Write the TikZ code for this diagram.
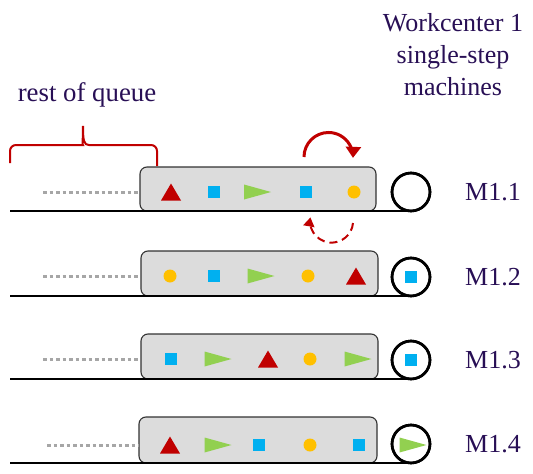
\documentclass[tikz,border=0pt]{standalone}
\usepackage{fontspec}
\setmainfont{Liberation Serif}
\usetikzlibrary{arrows.meta}
\definecolor{qred}{HTML}{C00000}
\definecolor{qblue}{HTML}{00B0F0}
\definecolor{qgreen}{HTML}{92D050}
\definecolor{qyellow}{HTML}{FFC000}
\definecolor{qtext}{RGB}{40,15,85}
\definecolor{qgray}{HTML}{A6A6A6}
\definecolor{qbox}{HTML}{DCDCDC}
\tikzset{
  redtri/.pic={\fill[qred] (-10,8.5) -- (10,8.5) -- (0,-8.5) -- cycle;},
  bluesq/.pic={\fill[qblue] (-6,-6) rectangle (6,6);},
  greentri/.pic={\fill[qgreen] (-13.5,-7.5) -- (13.5,0) -- (-13.5,7.5) -- cycle;},
  yeldot/.pic={\fill[qyellow] (0,0) circle[radius=6.5];},
  queuebox/.style={draw=black!80, fill=qbox, line width=1.1pt, rounded corners=7pt, inner sep=0pt},
  machine/.style={draw=black, line width=2.6pt, circle, minimum size=38pt, inner sep=0pt},
  lbl/.style={text=qtext, font=\fontsize{26}{32}\selectfont, inner sep=0pt},
  baseline line/.style={draw=black, line width=1.1pt},
  dotline/.style={draw=qgray, line width=3pt, dash pattern=on 3.5pt off 3pt},
  swapsolid/.style={draw=qred, line width=3pt, -{Triangle[width=15pt,length=11pt]}},
  swapdash/.style={draw=qred, line width=2pt, dash pattern=on 8pt off 5pt, -{Triangle[width=11pt,length=9pt]}},
  bracestyle/.style={draw=qred, line width=2pt}
}
\begin{document}
\begin{tikzpicture}[x=1pt,y=-1pt]
\useasboundingbox (0,0) rectangle (533,474);

% header texts
\node[lbl, anchor=base] (hd1) at (453,31) {Workcenter 1};
\node[lbl, anchor=base] (hd2) at (453,63) {single-step};
\node[lbl, anchor=base] (hd3) at (453,95) {machines};
\node[lbl, anchor=base, font=\fontsize{26.8}{32}\selectfont] (rq) at (87,101) {rest of queue};

% brace
\draw[bracestyle] (10,163) [rounded corners=6pt] -- (10,145) -- (77,145) [sharp corners]
  .. controls (82,145) and (83,141) .. (83,126)
  .. controls (83,141) and (84,145) .. (89,145) [rounded corners=6pt] -- (157,145) [sharp corners] -- (157,166);

% rows
\foreach \i/\xl/\xr/\yt/\yb/\ys/\dl in {1/140/376/167/211/192/43, 2/141/378/251/296/276/43, 3/141/378/334/379/359/43, 4/139/377/417/463/445/47} {
  \node[queuebox, minimum width={\xr-\xl}, minimum height={\yb-\yt}] (box\i) at ({(\xl+\xr)/2},{(\yt+\yb)/2}) {};
  \node[machine] (m\i) at (411,{\yb-19}) {};
  \node[lbl] (lab\i) at (493,{\yb-19}) {M1.\i};
  \coordinate (l\i) at (10,\yb);
  \coordinate (d\i) at (\dl,\ys);
  \draw[baseline line] (l\i) -- (l\i -| m\i);
  \draw[dotline] (d\i) -- (d\i -| box\i.west);
}
% redraw circles over lines
\foreach \i in {1,...,4} {\node[machine] at (m\i) {};}

% row 1 contents
\pic at (171,192) {redtri};
\pic at (214,192) {bluesq};
\pic at (257.5,192) {greentri};
\pic at (306,192) {bluesq};
\pic at (354,192) {yeldot};
% row 2
\pic at (170,276) {yeldot};
\pic at (214,276) {bluesq};
\pic at (261,276) {greentri};
\pic at (308,276) {yeldot};
\pic at (356,276) {redtri};
\pic at (m2) {bluesq};
% row 3
\pic at (171,359) {bluesq};
\pic at (218,359) {greentri};
\pic at (268,359) {redtri};
\pic at (310,359) {yeldot};
\pic at (358,359) {greentri};
\pic at (m3) {bluesq};
% row 4
\pic at (170,445) {redtri};
\pic at (218,445) {greentri};
\pic at (259,445) {bluesq};
\pic at (310,445) {yeldot};
\pic at (359,445) {bluesq};
\pic at (413,445) {greentri};

% swap arrows
\coordinate (sa) at (304,157);
\draw[swapsolid] (sa) arc[start angle=180, end angle=362, radius=24.5];
\coordinate (da) at (353,223);
\draw[swapdash] (da) arc[start angle=5, end angle=190, radius=21.5];
\end{tikzpicture}
\end{document}
